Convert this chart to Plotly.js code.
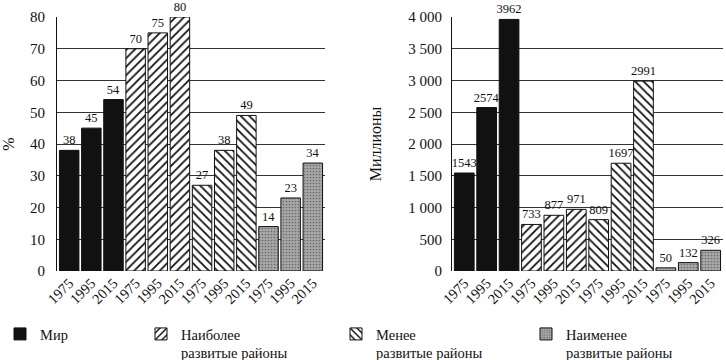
<!DOCTYPE html>
<html><head><meta charset="utf-8">
<script src="https://cdn.plot.ly/plotly-3.0.1.min.js"></script>
<style>html,body{margin:0;padding:0;background:#fff;}#chart{width:726px;height:360px;}</style>
</head><body><div id="chart"></div>
<script>
const years = ['1975', '1995', '2015'];
const groups = ['Мир', 'Наиболее<br>развитые районы', 'Менее<br>развитые районы', 'Наименее<br>развитые районы'];
const pctWorld = [38, 45, 54];
const pctMore = [70, 75, 80];
const pctLess = [27, 38, 49];
const pctLeast = [14, 23, 34];
const milWorld = [1543, 2574, 3962];
const milMore = [733, 877, 971];
const milLess = [809, 1697, 2991];
const milLeast = [50, 132, 326];
const pctTicks = [0, 10, 20, 30, 40, 50, 60, 70, 80];
const milTicks = [0, 500, 1000, 1500, 2000, 2500, 3000, 3500, 4000];
const milTickText = ['0', '500', '1 000', '1 500', '2 000', '2 500', '3 000', '3 500', '4 000'];

const pctData = [pctWorld, pctMore, pctLess, pctLeast];
const milData = [milWorld, milMore, milLess, milLeast];
const styles = [
  {color: '#111', pattern: {shape: ''}},
  {color: '#fff', pattern: {shape: '/', fgcolor: '#111', bgcolor: '#fff', size: 6, solidity: 0.3, fillmode: 'replace'}},
  {color: '#fff', pattern: {shape: '\\', fgcolor: '#111', bgcolor: '#fff', size: 6, solidity: 0.3, fillmode: 'replace'}},
  {color: '#a3a3a3', pattern: {shape: '.', fgcolor: '#6a6a6a', bgcolor: '#a8a8a8', size: 3, solidity: 0.25, fillmode: 'replace'}}
];
const font = 'Liberation Serif, Times New Roman, serif';
const allX = [], allTxt = [];
groups.forEach((g, gi) => years.forEach((y, yi) => { allX.push(gi * 3 + yi); allTxt.push(y); }));

const traces = [];
const legendNames = ['legend', 'legend2', 'legend3', 'legend4'];
[pctData, milData].forEach((dataset, si) => {
  dataset.forEach((vals, gi) => {
    traces.push({
      type: 'bar',
      name: groups[gi],
      x: years.map((y, yi) => gi * 3 + yi),
      y: vals,
      text: vals.map(String),
      textposition: 'outside',
      constraintext: 'none',
      cliponaxis: false,
      textfont: {family: font, size: 12.5, color: '#111'},
      width: 0.88,
      marker: {color: styles[gi].color, pattern: styles[gi].pattern, line: {color: '#111', width: 1}},
      xaxis: si === 0 ? 'x' : 'x2',
      yaxis: si === 0 ? 'y' : 'y2',
      showlegend: si === 0,
      legend: legendNames[gi],
      hoverinfo: 'skip'
    });
  });
});

const legendX = [-4, 155, 350, 540];
const layout = {
  width: 726, height: 360,
  margin: {l: 57, r: 3, t: 17, b: 89},
  paper_bgcolor: '#fff', plot_bgcolor: '#fff',
  font: {family: font, size: 15, color: '#111'},
  barmode: 'overlay',
  xaxis: {domain: [0, 0.4024], range: [-0.55, 11.55], tickvals: allX, ticktext: allTxt, tickangle: -45,
          showgrid: false, zeroline: false, showline: false, ticks: '', tickfont: {size: 14.5}, fixedrange: true},
  yaxis: {range: [0, 80], tickvals: pctTicks, showgrid: true, gridcolor: '#333', gridwidth: 1,
          showline: true, linecolor: '#111', linewidth: 1, zeroline: false, ticks: '',
          ticklabelstandoff: 8, title: {text: '%', standoff: 14, font: {size: 16}}},
  xaxis2: {domain: [0.593, 1], range: [-0.55, 11.55], tickvals: allX, ticktext: allTxt, tickangle: -45,
           showgrid: false, zeroline: false, showline: false, ticks: '', tickfont: {size: 14.5}, anchor: 'y2'},
  yaxis2: {range: [0, 4000], tickvals: milTicks, ticktext: milTickText, anchor: 'x2', showgrid: true,
           gridcolor: '#333', gridwidth: 1, showline: true, linecolor: '#111', linewidth: 1, zeroline: false,
           ticks: '', ticklabelstandoff: 6, title: {text: 'Миллионы', standoff: 22, font: {size: 16}}},
};
legendNames.forEach((ln, i) => {
  layout[ln] = {xref: 'paper', yref: 'container', x: (legendX[i] - 14 - 57) / 666, y: 1 - 318 / 360,
                xanchor: 'left', yanchor: 'top', orientation: 'h', bgcolor: 'rgba(0,0,0,0)',
                font: {family: font, size: 14.5, color: '#111'}, itemwidth: 30, valign: 'top'};
});
Plotly.newPlot('chart', traces, layout, {displayModeBar: false, staticPlot: true});
</script>
</body></html>
